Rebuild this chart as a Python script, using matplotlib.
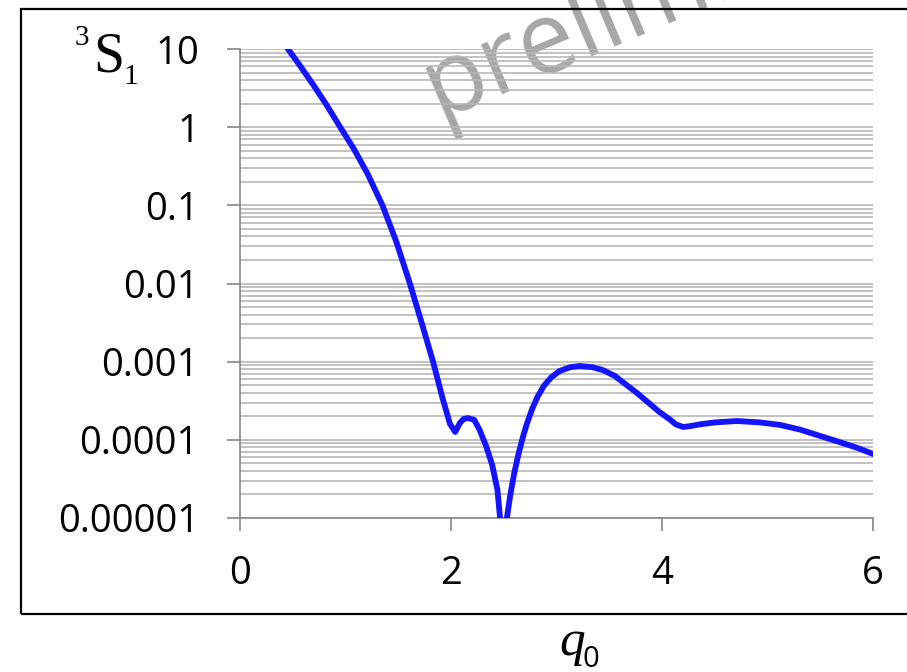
import matplotlib.pyplot as plt
from matplotlib.patches import Rectangle
from matplotlib.ticker import FixedLocator, LogLocator, NullFormatter

# values (3S1 channel vs q0)
q0 = [0.455, 0.57, 0.70, 0.825, 0.95, 1.08, 1.21, 1.35, 1.48, 1.61, 1.72,
      1.83, 1.92, 1.99, 2.04, 2.085, 2.12, 2.16, 2.22, 2.27, 2.33, 2.39, 2.44,
      2.465, 2.505, 2.53, 2.56, 2.60, 2.64, 2.68, 2.72, 2.77, 2.82, 2.88,
      2.95, 3.03, 3.13, 3.22, 3.34, 3.44, 3.55, 3.65, 3.76, 3.87, 3.97, 4.08,
      4.13, 4.2, 4.27, 4.36, 4.5, 4.71, 4.93, 5.12, 5.31, 5.5, 5.69, 5.85, 6.0]
s1 = [10, 6.08, 3.39, 1.88, 1.0, 0.525, 0.252, 0.1, 0.0347, 0.01, 3.2e-3,
      1e-3, 3.4e-4, 1.6e-4, 1.26e-4, 1.65e-4, 1.85e-4, 1.9e-4, 1.8e-4,
      1.35e-4, 8.5e-5, 4.8e-5, 2.3e-5, 1e-5, 1e-7, 1e-5, 1.9e-5, 3.8e-5,
      6.6e-5, 1.07e-4, 1.62e-4, 2.5e-4, 3.55e-4, 4.9e-4, 6.3e-4, 7.6e-4,
      8.5e-4, 8.8e-4, 8.5e-4, 7.8e-4, 6.6e-4, 5.2e-4, 4e-4, 3e-4, 2.3e-4,
      1.8e-4, 1.58e-4, 1.46e-4, 1.5e-4, 1.58e-4, 1.67e-4, 1.74e-4, 1.67e-4,
      1.55e-4, 1.35e-4, 1.12e-4, 9.3e-5, 7.9e-5, 6.6e-5]

ytick_vals = [1e-5, 1e-4, 1e-3, 1e-2, 1e-1, 1, 10]
ytick_labels = ["0.00001", "0.0001", "0.001", "0.01", "0.1", "1", "10"]
xtick_vals = [0, 2, 4, 6]

W, H = 907, 672
fig = plt.figure(figsize=(W / 100, H / 100), dpi=100)
ax = fig.add_axes([240 / W, 1 - 518 / H, 633 / W, 469 / H])

ax.plot(q0, s1, color="#1414ff", lw=4.2, solid_joinstyle="round", zorder=3)

ax.set_yscale("log")
ax.set_xlim(0, 6)
ax.set_ylim(1e-5, 10)
ax.yaxis.set_major_locator(FixedLocator(ytick_vals))
ax.set_yticklabels(ytick_labels)
ax.yaxis.set_minor_locator(LogLocator(base=10, subs=range(2, 10), numticks=20))
ax.yaxis.set_minor_formatter(NullFormatter())
ax.set_xticks(xtick_vals)
ax.set_xticklabels([str(v) for v in xtick_vals])

ax.set_axisbelow(True)
ax.grid(True, which="both", axis="y", color="#b8b8b8", lw=1.2)
for side in ("top", "right"):
    ax.spines[side].set_visible(False)
for side in ("left", "bottom"):
    ax.spines[side].set_color("#868686")
    ax.spines[side].set_linewidth(1.2)

ax.tick_params(axis="both", which="major", direction="out", length=9.5,
               width=1.2, color="#868686")
ax.tick_params(axis="y", which="minor", length=0)
ax.tick_params(axis="y", which="major", pad=20)
ax.tick_params(axis="x", which="major", pad=17)
for lab in ax.get_xticklabels() + ax.get_yticklabels():
    lab.set_fontfamily("Open Sans")
    lab.set_fontsize(27.5)

# watermark
ax.text(408 / W, 1 - 116 / H, "preliminary", transform=fig.transFigure,
        rotation=23, fontsize=72, family="Open Sans", color="#a6a6a6",
        ha="left", va="baseline", clip_on=False, zorder=0.2)

# channel label 3S1
fig.text(93 / W, 1 - 72 / H, "S", family="Liberation Serif", fontsize=40,
         ha="left", va="baseline")
fig.text(75 / W, 1 - 45 / H, "3", family="Liberation Serif", fontsize=21,
         ha="left", va="baseline")
fig.text(123 / W, 1 - 84 / H, "1", family="Liberation Serif", fontsize=21,
         ha="left", va="baseline")

# axis label q0
fig.text(559 / W, 1 - 655 / H, "q", family="Liberation Serif", style="italic",
         fontsize=37, ha="left", va="baseline")
fig.text(583 / W, 1 - 667 / H, "0", family="Open Sans", fontsize=21,
         ha="left", va="baseline")

# outer frame
fig.patches.append(Rectangle((21 / W, 1 - 614 / H), 900 / W, 605 / H,
                             transform=fig.transFigure, fill=False,
                             edgecolor="black", lw=1.6))

fig.savefig("out.png", dpi=100)
